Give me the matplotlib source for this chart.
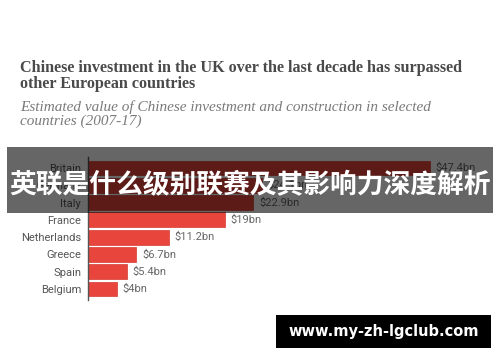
import matplotlib.pyplot as plt
from matplotlib.patches import Rectangle

# data
countries = ['Britain', 'Germany', 'Italy', 'France', 'Netherlands', 'Greece', 'Spain', 'Belgium']
values = [47.4, 24.1, 22.9, 19, 11.2, 6.7, 5.4, 4]
labels = ['$47.4bn', '$24.1bn', '$22.9bn', '$19bn', '$11.2bn', '$6.7bn', '$5.4bn', '$4bn']

title = 'Chinese investment in the UK over the last decade has surpassed\nother European countries'
subtitle = 'Estimated value of Chinese investment and construction in selected\ncountries (2007-17)'
banner = '英联是什么级别联赛及其影响力深度解析'
watermark = 'www.my-zh-lgclub.com'

narrow = ['Roboto', 'DejaVu Sans']

fig = plt.figure(figsize=(5, 3.62), dpi=100)
fig.patch.set_facecolor('white')

# title block
fig.text(20 / 500, 1 - 60 / 362, title, family='Liberation Serif', weight='bold',
         fontsize=11.6, color='#4a4a4a', va='top', linespacing=1.0)
fig.text(20 / 500, 1 - 100 / 362, subtitle, family='Liberation Serif', style='italic',
         fontsize=11, color='#7a7a7a', va='top', linespacing=1.05)

# bar chart
ax = fig.add_axes([88 / 500, 1 - 300 / 362, 397 / 500, 143 / 362])
y = range(len(countries))
ax.barh(y, values, height=0.86, color='#e8453c', edgecolor='#d63a32', linewidth=0.5)
ax.set_xlim(0, 55)
ax.set_ylim(7.64, -0.64)
for i, (v, lab) in enumerate(zip(values, labels)):
    ax.text(v + 0.8, i, lab, va='center', ha='left', fontsize=8,
            color='#666666', family=narrow)
ax.set_yticks(list(y))
ax.set_yticklabels(countries, family=narrow, fontsize=8, color='#555555')
ax.tick_params(axis='y', length=0, pad=5)
ax.set_xticks([])
for s in ['top', 'right', 'bottom']:
    ax.spines[s].set_visible(False)
ax.spines['left'].set_color('#555555')
ax.spines['left'].set_linewidth(1)

# dark banner with chinese headline
fig.patches.append(Rectangle((7 / 500, 1 - 213 / 362), 486 / 500, 66 / 362,
                             transform=fig.transFigure, facecolor='black',
                             alpha=0.6, edgecolor='none', zorder=5))
fig.text(0.5, 1 - 185 / 362, banner, family=['Noto Sans CJK SC', 'DejaVu Sans'],
         weight='bold', fontsize=19.3, color='white', ha='center', va='center', zorder=6)

# watermark box
fig.patches.append(Rectangle((276 / 500, 1 - 348 / 362), 215 / 500, 33 / 362,
                             transform=fig.transFigure, facecolor='black',
                             edgecolor='none', zorder=5))
fig.text(383.5 / 500, 1 - 331.5 / 362, watermark, family='DejaVu Sans', weight='bold',
         fontsize=10.5, color='white', ha='center', va='center', zorder=6)

fig.savefig('out.png', dpi=100)
